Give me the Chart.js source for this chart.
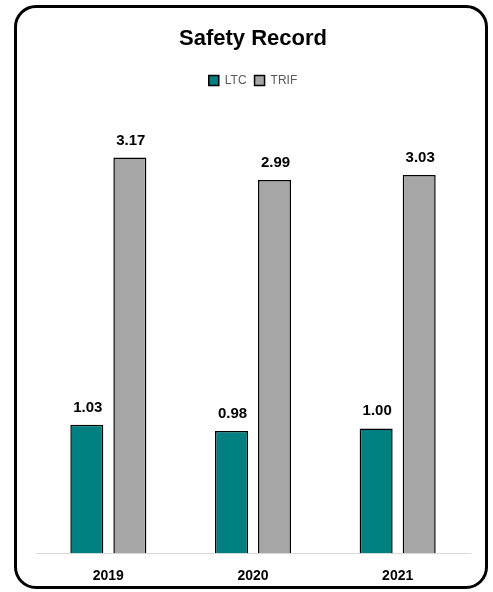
<!DOCTYPE html>
<html>
<head>
<meta charset="utf-8">
<script src="https://cdn.jsdelivr.net/npm/chart.js@4.4.0/dist/chart.umd.min.js"></script>
<style>
  body { margin: 0; background: #fff; }
  #marco { position: absolute; left: 14px; top: 5px; width: 468px; height: 578px; border: 3px solid #000; border-radius: 22px; pointer-events: none; }
  #caja { position: absolute; left: 0; top: 0; width: 493px; height: 592px; }
</style>
</head>
<body>
<div id="caja"><canvas id="grafica"></canvas></div>
<div id="marco"></div>
<script>
'use strict'
//Datos de la gráfica
const anios = ['2019', '2020', '2021'];
const valores_ltc = [1.03, 0.98, 1.00];
const valores_trif = [3.17, 2.99, 3.03];

const ctx = document.getElementById('grafica').getContext('2d');

//Plugin para escribir el valor encima de cada barra
const etiquetasBarras = {
    id: 'etiquetasBarras',
    afterDatasetsDraw(chart) {
        const c = chart.ctx;
        c.save();
        c.font = 'bold 15px "Liberation Sans", Arial, sans-serif';
        c.fillStyle = '#000';
        c.textAlign = 'center';
        c.textBaseline = 'alphabetic';
        chart.data.datasets.forEach((ds, i) => {
            chart.getDatasetMeta(i).data.forEach((barra, j) => {
                c.fillText(ds.data[j].toFixed(2), barra.x + 1, barra.y - 13);
            });
        });
        c.restore();
    }
};

//Espacio extra debajo de la leyenda
const espacioLeyenda = {
    id: 'espacioLeyenda',
    beforeInit(chart) {
        const fitOriginal = chart.legend.fit;
        chart.legend.fit = function () {
            fitOriginal.bind(chart.legend)();
            this.height += 20;
        };
    }
};

new Chart(ctx, {
    type: 'bar',
    data: {
        labels: anios,
        datasets: [{
            label: 'LTC',
            data: valores_ltc,
            backgroundColor: '#008080',
            borderColor: '#000',
            borderWidth: 1.5,
            borderSkipped: 'bottom'
        }, {
            label: 'TRIF',
            data: valores_trif,
            backgroundColor: '#a6a6a6',
            borderColor: '#000',
            borderWidth: 1.5,
            borderSkipped: 'bottom'
        }]
    },
    options: {
        animation: false,
        responsive: true,
        maintainAspectRatio: false,
        datasets: {
            bar: { categoryPercentage: 0.595, barPercentage: 0.767 }
        },
        layout: { padding: { left: 36, right: 23, top: 26, bottom: 0 } },
        scales: {
            x: {
                grid: { display: false },
                border: { display: true, color: '#d9d9d9', width: 1 },
                ticks: { color: '#000', font: { family: '"Liberation Sans", Arial, sans-serif', size: 14, weight: 'bold' }, padding: 7 }
            },
            y: {
                display: false,
                min: 0,
                max: 3.5
            }
        },
        plugins: {
            title: {
                display: true,
                text: 'Safety Record',
                color: '#000',
                font: { family: '"Liberation Sans", Arial, sans-serif', size: 22, weight: 'bold' },
                padding: { top: 0, bottom: 14 }
            },
            legend: {
                position: 'top',
                labels: {
                    boxWidth: 10,
                    boxHeight: 10,
                    color: '#595959',
                    font: { family: '"Liberation Sans", Arial, sans-serif', size: 12 },
                    padding: 8
                }
            },
            tooltip: { enabled: false }
        }
    },
    plugins: [etiquetasBarras, espacioLeyenda]
});
</script>
</body>
</html>
